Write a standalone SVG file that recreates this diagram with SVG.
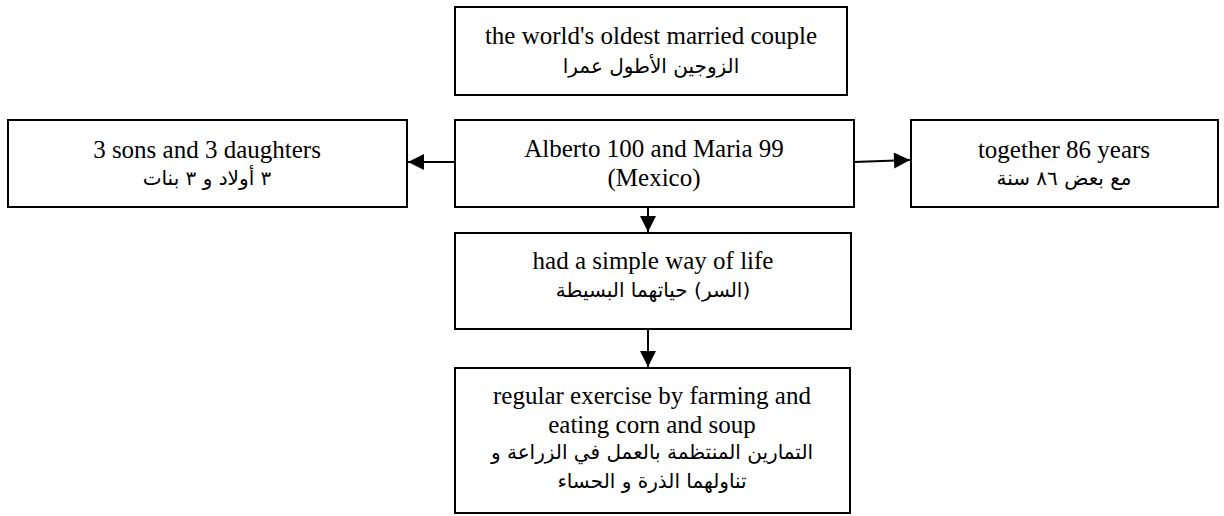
<svg xmlns="http://www.w3.org/2000/svg" width="1224" height="516" viewBox="0 0 1224 516">
  <style>
    .box { fill: #ffffff; stroke: #000000; stroke-width: 2; }
    .en { font-family: "Liberation Serif", "Times New Roman", serif; font-size: 25px; fill: #000; text-anchor: middle; }
    .ar { font-family: "DejaVu Sans", "Liberation Sans", sans-serif; font-size: 20px; fill: #000; text-anchor: middle; direction: rtl; }
    .link { stroke: #000; stroke-width: 2; fill: none; marker-end: url(#arrow); }
  </style>
  <defs>
    <marker id="arrow" viewBox="0 0 10 10" refX="10" refY="5" markerWidth="9" markerHeight="8" markerUnits="strokeWidth" orient="auto">
      <path d="M0,0 L10,5 L0,10 Z" fill="#000"/>
    </marker>
  </defs>
  <rect width="1224" height="516" fill="#ffffff"/>

  <g id="node-couple">
    <rect class="box" x="455" y="7" width="392" height="88"/>
    <text class="en" x="651" y="44">the world's oldest married couple</text>
    <text class="ar" x="651" y="73">الزوجين الأطول عمرا</text>
  </g>

  <g id="node-children">
    <rect class="box" x="8" y="120" width="399" height="87"/>
    <text class="en" x="207" y="158">3 sons and 3 daughters</text>
    <text class="ar" x="207" y="185">٣ أولاد و ٣ بنات</text>
  </g>

  <g id="node-names">
    <rect class="box" x="455" y="120" width="399" height="87"/>
    <text class="en" x="654" y="157">Alberto 100 and Maria 99</text>
    <text class="en" x="654" y="186">(Mexico)</text>
  </g>

  <g id="node-years">
    <rect class="box" x="911" y="120" width="307" height="87"/>
    <text class="en" x="1064" y="158">together 86 years</text>
    <text class="ar" x="1064" y="185">مع بعض ٨٦ سنة</text>
  </g>

  <g id="node-life">
    <rect class="box" x="455" y="233" width="396" height="96"/>
    <text class="en" x="653" y="269">had a simple way of life</text>
    <text class="ar" x="653" y="297">(السر) حياتهما البسيطة</text>
  </g>

  <g id="node-habits">
    <rect class="box" x="455" y="368" width="395" height="145"/>
    <text class="en" x="652" y="404">regular exercise by farming and</text>
    <text class="en" x="652" y="433">eating corn and soup</text>
    <text class="ar" x="652" y="459">التمارين المنتظمة بالعمل في الزراعة و</text>
    <text class="ar" x="652" y="488">تناولهما الذرة و الحساء</text>
  </g>

  <g id="connectors">
    <line class="link" x1="455" y1="162" x2="408" y2="162"/>
    <line class="link" x1="854" y1="162" x2="910" y2="160"/>
    <line class="link" x1="648" y1="207" x2="648" y2="232"/>
    <line class="link" x1="648" y1="329" x2="648" y2="367"/>
  </g>
</svg>
